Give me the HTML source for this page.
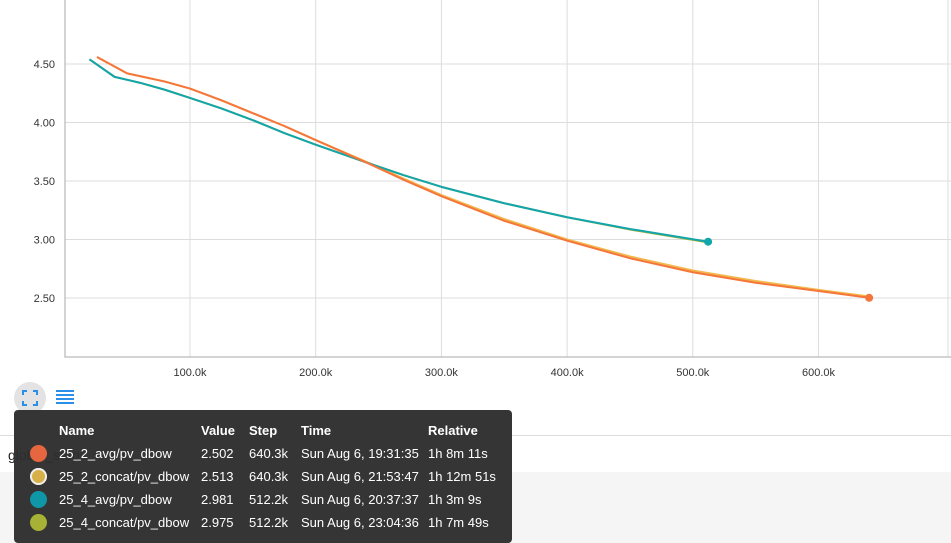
<!DOCTYPE html>
<html><head><meta charset="utf-8"><style>
body{margin:0;width:951px;height:543px;overflow:hidden;background:#fff;font-family:"Liberation Sans",sans-serif;position:relative}
#bottom{position:absolute;left:0;top:472px;width:951px;height:71px;background:#f5f5f5}
#rule{position:absolute;left:0;top:435px;width:951px;height:1px;background:#ddd}
#gs{position:absolute;left:8px;top:447px;font-size:14px;color:#222}
#tip{position:absolute;left:14px;top:410px;width:498px;height:133px;background:rgba(45,45,45,0.96);border-radius:4px;color:#fff;font-size:13px}
#tip table{position:absolute;left:0;top:9px;border-collapse:collapse}
#tip td,#tip th{padding:0;height:23px;text-align:left;white-space:nowrap}
#tip th{font-weight:bold}
.dot{display:inline-block;width:17px;height:17px;border-radius:50%;vertical-align:middle}
</style></head><body>
<svg id="chart" width="951" height="380" style="position:absolute;left:0;top:0"></svg>
<div id="rule"></div>
<div id="bottom"></div>
<div id="gs">global_step</div>
<svg style="position:absolute;left:13px;top:381px" width="70" height="34">
<g><circle cx="17" cy="17" r="16" fill="#e3e3e3"/>
<path d="M10 14v-4h4M20 10h4v4M24 20v4h-4M14 24h-4v-4" stroke="#2a8fe8" stroke-width="2" fill="none"/></g>
<g fill="#2a8fe8"><rect x="43" y="9" width="18" height="2"/><rect x="43" y="13" width="18" height="2"/><rect x="43" y="17" width="18" height="2"/><rect x="43" y="21" width="18" height="2"/></g>
</svg>
<div id="tip"><table>
<tr><th style="width:45px"></th><th style="width:142px">Name</th><th style="width:48px">Value</th><th style="width:52px">Step</th><th style="width:127px">Time</th><th>Relative</th></tr>
<tr><td style="padding-left:16px"><span class="dot" style="background:#e5663f"></span></td><td>25_2_avg/pv_dbow</td><td>2.502</td><td>640.3k</td><td>Sun Aug 6, 19:31:35</td><td>1h 8m 11s</td></tr>
<tr><td style="padding-left:16px"><span class="dot" style="background:#d8b04a;box-shadow:inset 0 0 0 2px #eee"></span></td><td>25_2_concat/pv_dbow</td><td>2.513</td><td>640.3k</td><td>Sun Aug 6, 21:53:47</td><td>1h 12m 51s</td></tr>
<tr><td style="padding-left:16px"><span class="dot" style="background:#0f97a8"></span></td><td>25_4_avg/pv_dbow</td><td>2.981</td><td>512.2k</td><td>Sun Aug 6, 20:37:37</td><td>1h 3m 9s</td></tr>
<tr><td style="padding-left:16px"><span class="dot" style="background:#a6b135"></span></td><td>25_4_concat/pv_dbow</td><td>2.975</td><td>512.2k</td><td>Sun Aug 6, 23:04:36</td><td>1h 7m 49s</td></tr>
</table></div>
<script>
const xTicks=[100,200,300,400,500,600];
const yTicks=[2.5,3.0,3.5,4.0,4.5];
const steps2=[26,50,80,100,125,150,175,200,240,270,300,350,400,450,500,550,600,640.3];
const avg2=[4.56,4.42,4.35,4.29,4.19,4.08,3.97,3.85,3.66,3.51,3.37,3.16,2.99,2.84,2.72,2.63,2.56,2.502];
const concat2=[4.56,4.42,4.35,4.29,4.19,4.08,3.97,3.85,3.665,3.52,3.38,3.175,3.00,2.855,2.735,2.645,2.57,2.513];
const steps4=[20,40,60,80,100,125,150,175,200,240,270,300,350,400,450,512.2];
const avg4=[4.54,4.39,4.34,4.28,4.21,4.12,4.02,3.91,3.81,3.66,3.55,3.45,3.31,3.19,3.09,2.981];
const concat4=[4.54,4.39,4.34,4.28,4.21,4.12,4.02,3.91,3.81,3.66,3.55,3.45,3.31,3.19,3.085,2.975];
const NS="http://www.w3.org/2000/svg",svg=document.getElementById('chart');
const X=s=>64.3+s*1.257, Y=v=>64+(4.5-v)*117;
function mk(t,a,p){const e=document.createElementNS(NS,t);for(const k in a)e.setAttribute(k,a[k]);(p||svg).appendChild(e);return e;}
xTicks.forEach(t=>{const l=mk('line',{x1:X(t),x2:X(t),y1:0,y2:357,stroke:'#ddd'});


const tx=mk('text',{x:X(t),y:376,'text-anchor':'middle','font-size':11,fill:'#333'});tx.textContent=t.toFixed(1)+'k';

});
mk('line',{x1:948,x2:948,y1:0,y2:357,stroke:'#ddd'});
yTicks.forEach(t=>{const l=mk('line',{x1:65,x2:951,y1:Y(t),y2:Y(t),stroke:'#ddd'});


const tx=mk('text',{x:55,y:Y(t)+4,'text-anchor':'end','font-size':11,fill:'#333'});tx.textContent=t.toFixed(2);

});
const ax=mk('path',{d:'M65 0V357H951',stroke:'#aaa',fill:'none'});


function line(xs,ys,c,name,dot){const p=mk('path',{d:xs.map((s,i)=>(i?'L':'M')+X(s)+' '+Y(ys[i])).join(''),stroke:c,'stroke-width':2,fill:'none','stroke-linejoin':'round'});


if(dot){const d=mk('circle',{cx:X(xs[xs.length-1]),cy:Y(ys[ys.length-1]),r:4,fill:c});

}}
line(steps4,concat4,'#a6b135','line-25-4-concat',false);
line(steps2,concat2,'#f2b84b','line-25-2-concat',false);
line(steps4,avg4,'#12a5ab','line-25-4-avg',true);
line(steps2,avg2,'#f5763b','line-25-2-avg',true);
</script>
</body></html>
